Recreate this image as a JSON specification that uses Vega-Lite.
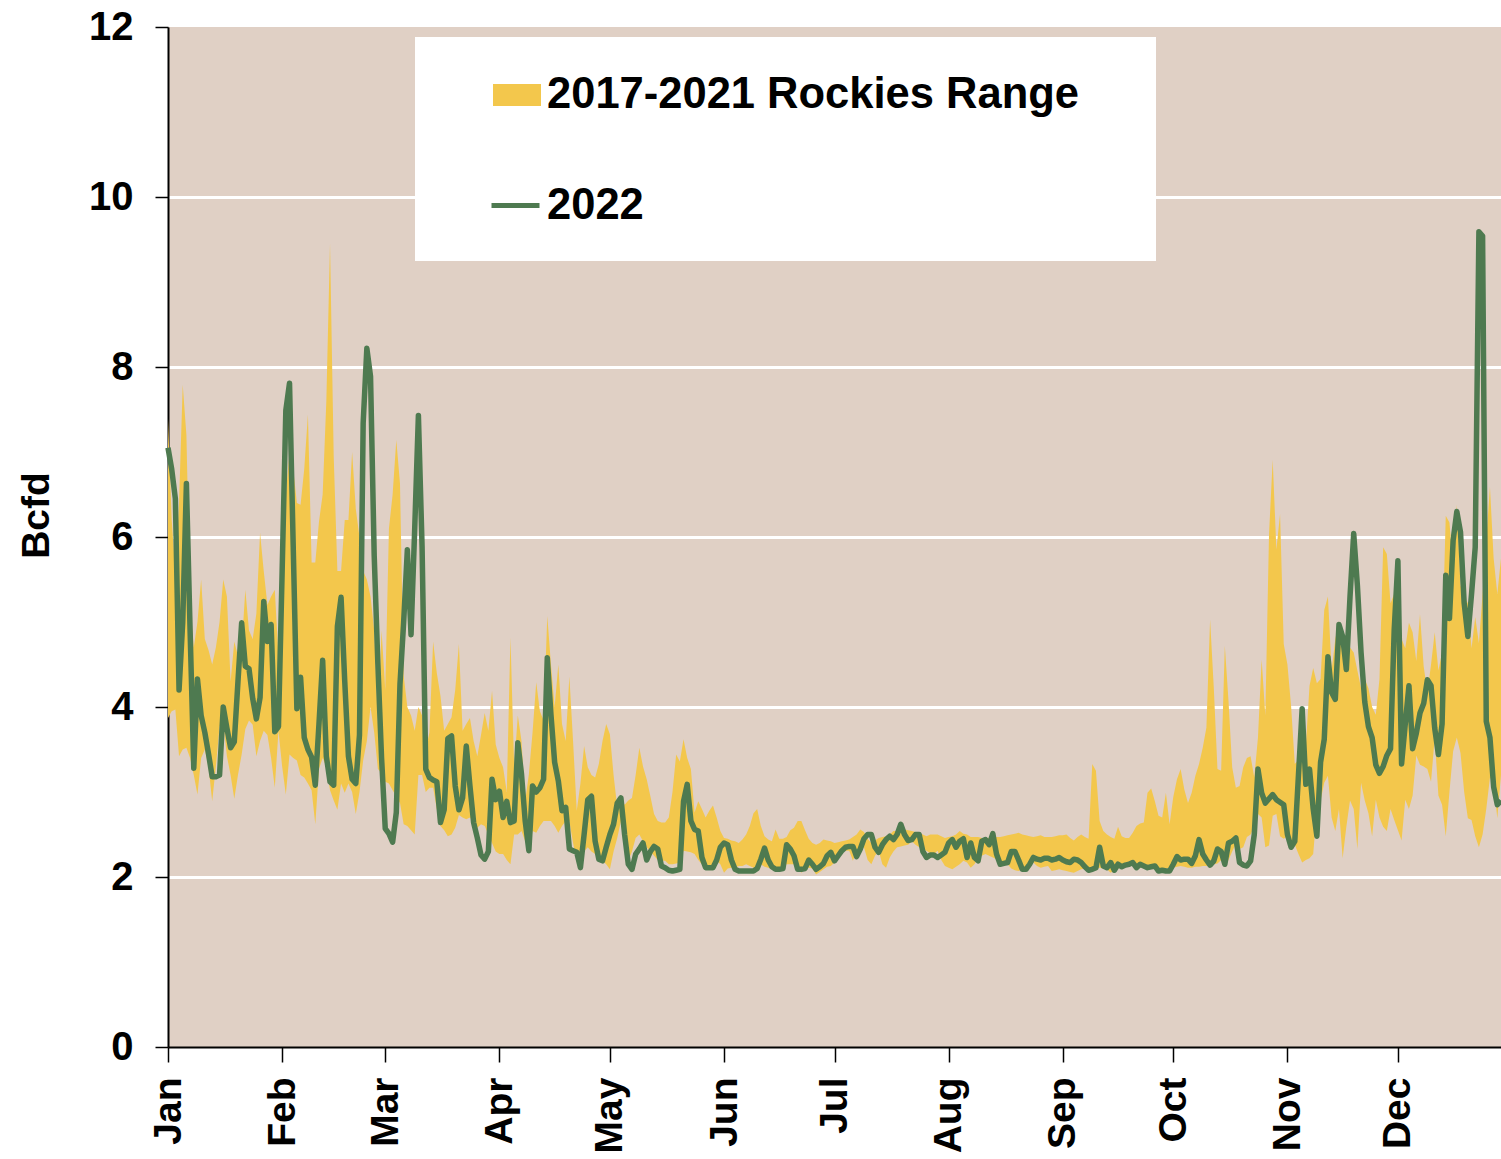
{
"$schema":"https://vega.github.io/schema/vega-lite/v6.json",
"width":1333,"height":1020,
"autosize":{"type":"none"},
"padding":{"left":168,"top":27,"right":0,"bottom":112},
"background":"white",
"config":{"view":{"fill":"#E0D0C5","stroke":null},"font":"Liberation Sans"},
"data":{"values":[
{"d":"2022-01-01","lo":3.87,"hi":7.39,"v":7.05},{"d":"2022-01-02","lo":3.95,"hi":6.2,"v":6.8},{"d":"2022-01-03","lo":3.97,"hi":5.6,"v":6.45},{"d":"2022-01-04","lo":3.42,"hi":6.4,"v":4.2},{"d":"2022-01-05","lo":3.5,"hi":7.79,"v":5.0},{"d":"2022-01-06","lo":3.52,"hi":7.2,"v":6.63},{"d":"2022-01-07","lo":3.4,"hi":5.2,"v":4.9},{"d":"2022-01-08","lo":3.2,"hi":4.7,"v":3.28},{"d":"2022-01-09","lo":2.97,"hi":5.0,"v":4.33},{"d":"2022-01-10","lo":3.4,"hi":5.5,"v":3.9},{"d":"2022-01-11","lo":3.5,"hi":4.8,"v":3.7},{"d":"2022-01-12","lo":3.3,"hi":4.67,"v":3.45},{"d":"2022-01-13","lo":2.89,"hi":4.5,"v":3.18},{"d":"2022-01-14","lo":3.3,"hi":4.7,"v":3.18},{"d":"2022-01-15","lo":3.77,"hi":5.0,"v":3.2},{"d":"2022-01-16","lo":3.82,"hi":5.5,"v":4.0},{"d":"2022-01-17","lo":3.42,"hi":5.3,"v":3.75},{"d":"2022-01-18","lo":3.2,"hi":4.3,"v":3.52},{"d":"2022-01-19","lo":2.92,"hi":4.77,"v":3.59},{"d":"2022-01-20","lo":3.2,"hi":4.6,"v":4.3},{"d":"2022-01-21","lo":3.44,"hi":4.7,"v":4.99},{"d":"2022-01-22","lo":3.74,"hi":5.38,"v":4.48},{"d":"2022-01-23","lo":3.84,"hi":4.9,"v":4.45},{"d":"2022-01-24","lo":3.79,"hi":4.8,"v":4.1},{"d":"2022-01-25","lo":3.42,"hi":5.1,"v":3.86},{"d":"2022-01-26","lo":3.6,"hi":6.05,"v":4.11},{"d":"2022-01-27","lo":3.72,"hi":5.6,"v":5.24},{"d":"2022-01-28","lo":3.67,"hi":5.2,"v":4.77},{"d":"2022-01-29","lo":3.4,"hi":5.3,"v":4.97},{"d":"2022-01-30","lo":3.05,"hi":5.38,"v":3.71},{"d":"2022-01-31","lo":3.72,"hi":4.6,"v":3.77},
{"d":"2022-02-01","lo":3.3,"hi":5.3,"v":5.6},{"d":"2022-02-02","lo":2.97,"hi":6.5,"v":7.49},{"d":"2022-02-03","lo":3.44,"hi":7.0,"v":7.81},{"d":"2022-02-04","lo":3.4,"hi":6.8,"v":5.9},{"d":"2022-02-05","lo":3.37,"hi":6.4,"v":3.98},{"d":"2022-02-06","lo":3.2,"hi":6.38,"v":4.35},{"d":"2022-02-07","lo":3.17,"hi":6.8,"v":3.64},{"d":"2022-02-08","lo":3.1,"hi":7.44,"v":3.5},{"d":"2022-02-09","lo":3.02,"hi":5.7,"v":3.41},{"d":"2022-02-10","lo":2.62,"hi":5.7,"v":3.08},{"d":"2022-02-11","lo":3.27,"hi":6.18,"v":3.8},{"d":"2022-02-12","lo":3.4,"hi":6.5,"v":4.55},{"d":"2022-02-13","lo":3.3,"hi":7.6,"v":3.42},{"d":"2022-02-14","lo":3.02,"hi":9.45,"v":3.12},{"d":"2022-02-15","lo":2.9,"hi":6.95,"v":3.08},{"d":"2022-02-16","lo":2.79,"hi":5.6,"v":4.95},{"d":"2022-02-17","lo":3.1,"hi":5.6,"v":5.29},{"d":"2022-02-18","lo":2.99,"hi":6.2,"v":4.3},{"d":"2022-02-19","lo":3.1,"hi":6.2,"v":3.42},{"d":"2022-02-20","lo":3.0,"hi":7.0,"v":3.15},{"d":"2022-02-21","lo":2.74,"hi":6.33,"v":3.1},{"d":"2022-02-22","lo":3.0,"hi":6.0,"v":3.67},{"d":"2022-02-23","lo":3.37,"hi":5.6,"v":7.34},{"d":"2022-02-24","lo":3.6,"hi":5.5,"v":8.22},{"d":"2022-02-25","lo":4.0,"hi":5.3,"v":7.89},{"d":"2022-02-26","lo":3.7,"hi":4.9,"v":5.78},{"d":"2022-02-27","lo":3.27,"hi":3.8,"v":4.5},{"d":"2022-02-28","lo":3.22,"hi":4.9,"v":3.4},
{"d":"2022-03-01","lo":3.12,"hi":4.2,"v":2.57},{"d":"2022-03-02","lo":3.1,"hi":6.1,"v":2.51},{"d":"2022-03-03","lo":3.02,"hi":6.5,"v":2.41},{"d":"2022-03-04","lo":2.95,"hi":7.14,"v":2.76},{"d":"2022-03-05","lo":2.87,"hi":6.63,"v":4.27},{"d":"2022-03-06","lo":2.62,"hi":4.37,"v":5.0},{"d":"2022-03-07","lo":2.6,"hi":4.0,"v":5.85},{"d":"2022-03-08","lo":2.55,"hi":3.9,"v":4.85},{"d":"2022-03-09","lo":2.5,"hi":3.72,"v":6.1},{"d":"2022-03-10","lo":3.2,"hi":4.0,"v":7.43},{"d":"2022-03-11","lo":3.2,"hi":3.9,"v":5.88},{"d":"2022-03-12","lo":3.0,"hi":3.5,"v":3.27},{"d":"2022-03-13","lo":3.05,"hi":3.7,"v":3.17},{"d":"2022-03-14","lo":3.05,"hi":4.77,"v":3.14},{"d":"2022-03-15","lo":2.8,"hi":4.4,"v":3.12},{"d":"2022-03-16","lo":2.6,"hi":4.13,"v":2.64},{"d":"2022-03-17","lo":2.55,"hi":3.72,"v":2.79},{"d":"2022-03-18","lo":2.48,"hi":3.8,"v":3.63},{"d":"2022-03-19","lo":2.5,"hi":3.88,"v":3.66},{"d":"2022-03-20","lo":2.58,"hi":4.2,"v":3.07},{"d":"2022-03-21","lo":2.73,"hi":4.74,"v":2.79},{"d":"2022-03-22","lo":2.7,"hi":3.72,"v":2.93},{"d":"2022-03-23","lo":2.68,"hi":3.8,"v":3.54},{"d":"2022-03-24","lo":2.7,"hi":3.87,"v":3.07},{"d":"2022-03-25","lo":2.65,"hi":3.6,"v":2.64},{"d":"2022-03-26","lo":2.58,"hi":3.42,"v":2.46},{"d":"2022-03-27","lo":2.62,"hi":3.67,"v":2.26},{"d":"2022-03-28","lo":2.6,"hi":3.93,"v":2.21},{"d":"2022-03-29","lo":2.5,"hi":3.72,"v":2.3},{"d":"2022-03-30","lo":2.4,"hi":4.19,"v":3.15},{"d":"2022-03-31","lo":2.3,"hi":3.56,"v":2.91},
{"d":"2022-04-01","lo":2.27,"hi":3.4,"v":3.01},{"d":"2022-04-02","lo":2.27,"hi":3.29,"v":2.7},{"d":"2022-04-03","lo":2.2,"hi":3.0,"v":2.89},{"d":"2022-04-04","lo":2.15,"hi":4.82,"v":2.64},{"d":"2022-04-05","lo":2.5,"hi":3.3,"v":2.66},{"d":"2022-04-06","lo":2.5,"hi":3.9,"v":3.58},{"d":"2022-04-07","lo":2.54,"hi":3.6,"v":3.21},{"d":"2022-04-08","lo":2.42,"hi":2.89,"v":2.66},{"d":"2022-04-09","lo":2.35,"hi":3.21,"v":2.31},{"d":"2022-04-10","lo":2.54,"hi":3.7,"v":3.07},{"d":"2022-04-11","lo":2.52,"hi":4.29,"v":3.0},{"d":"2022-04-12","lo":2.6,"hi":3.95,"v":3.05},{"d":"2022-04-13","lo":2.66,"hi":3.84,"v":3.15},{"d":"2022-04-14","lo":2.66,"hi":5.07,"v":4.58},{"d":"2022-04-15","lo":2.66,"hi":4.5,"v":3.91},{"d":"2022-04-16","lo":2.6,"hi":4.0,"v":3.35},{"d":"2022-04-17","lo":2.52,"hi":4.5,"v":3.13},{"d":"2022-04-18","lo":2.6,"hi":3.8,"v":2.78},{"d":"2022-04-19","lo":2.66,"hi":3.6,"v":2.82},{"d":"2022-04-20","lo":2.66,"hi":4.36,"v":2.33},{"d":"2022-04-21","lo":2.4,"hi":3.6,"v":2.31},{"d":"2022-04-22","lo":2.19,"hi":2.78,"v":2.29},{"d":"2022-04-23","lo":2.15,"hi":3.1,"v":2.11},{"d":"2022-04-24","lo":2.3,"hi":3.54,"v":2.5},{"d":"2022-04-25","lo":2.35,"hi":3.29,"v":2.91},{"d":"2022-04-26","lo":2.3,"hi":3.2,"v":2.95},{"d":"2022-04-27","lo":2.27,"hi":3.17,"v":2.42},{"d":"2022-04-28","lo":2.2,"hi":3.33,"v":2.21},{"d":"2022-04-29","lo":2.19,"hi":3.6,"v":2.19},{"d":"2022-04-30","lo":2.15,"hi":3.8,"v":2.35},
{"d":"2022-05-01","lo":2.09,"hi":3.68,"v":2.5},{"d":"2022-05-02","lo":2.3,"hi":3.2,"v":2.62},{"d":"2022-05-03","lo":2.46,"hi":2.82,"v":2.87},{"d":"2022-05-04","lo":2.66,"hi":2.95,"v":2.93},{"d":"2022-05-05","lo":2.4,"hi":2.85,"v":2.5},{"d":"2022-05-06","lo":2.19,"hi":2.9,"v":2.15},{"d":"2022-05-07","lo":2.3,"hi":2.93,"v":2.09},{"d":"2022-05-08","lo":2.46,"hi":3.2,"v":2.27},{"d":"2022-05-09","lo":2.5,"hi":3.52,"v":2.33},{"d":"2022-05-10","lo":2.42,"hi":3.3,"v":2.4},{"d":"2022-05-11","lo":2.35,"hi":3.15,"v":2.2},{"d":"2022-05-12","lo":2.3,"hi":2.95,"v":2.3},{"d":"2022-05-13","lo":2.25,"hi":2.74,"v":2.36},{"d":"2022-05-14","lo":2.2,"hi":2.66,"v":2.33},{"d":"2022-05-15","lo":2.19,"hi":2.64,"v":2.13},{"d":"2022-05-16","lo":2.19,"hi":2.64,"v":2.11},{"d":"2022-05-17","lo":2.15,"hi":2.7,"v":2.08},{"d":"2022-05-18","lo":2.15,"hi":3.0,"v":2.07},{"d":"2022-05-19","lo":2.16,"hi":3.44,"v":2.08},{"d":"2022-05-20","lo":2.17,"hi":3.36,"v":2.09},{"d":"2022-05-21","lo":2.31,"hi":3.62,"v":2.89},{"d":"2022-05-22","lo":2.3,"hi":3.4,"v":3.09},{"d":"2022-05-23","lo":2.29,"hi":3.27,"v":2.66},{"d":"2022-05-24","lo":2.27,"hi":2.76,"v":2.56},{"d":"2022-05-25","lo":2.2,"hi":2.89,"v":2.54},{"d":"2022-05-26","lo":2.15,"hi":2.8,"v":2.23},{"d":"2022-05-27","lo":2.12,"hi":2.7,"v":2.11},{"d":"2022-05-28","lo":2.11,"hi":2.78,"v":2.11},{"d":"2022-05-29","lo":2.15,"hi":2.84,"v":2.11},{"d":"2022-05-30","lo":2.19,"hi":2.7,"v":2.2},{"d":"2022-05-31","lo":2.15,"hi":2.54,"v":2.35},
{"d":"2022-06-01","lo":2.05,"hi":2.46,"v":2.4},{"d":"2022-06-02","lo":2.1,"hi":2.45,"v":2.38},{"d":"2022-06-03","lo":2.11,"hi":2.43,"v":2.2},{"d":"2022-06-04","lo":2.11,"hi":2.42,"v":2.09},{"d":"2022-06-05","lo":2.13,"hi":2.4,"v":2.07},{"d":"2022-06-06","lo":2.13,"hi":2.44,"v":2.07},{"d":"2022-06-07","lo":2.15,"hi":2.5,"v":2.07},{"d":"2022-06-08","lo":2.13,"hi":2.6,"v":2.07},{"d":"2022-06-09","lo":2.11,"hi":2.75,"v":2.07},{"d":"2022-06-10","lo":2.12,"hi":2.8,"v":2.1},{"d":"2022-06-11","lo":2.15,"hi":2.6,"v":2.21},{"d":"2022-06-12","lo":2.12,"hi":2.48,"v":2.34},{"d":"2022-06-13","lo":2.11,"hi":2.44,"v":2.2},{"d":"2022-06-14","lo":2.09,"hi":2.42,"v":2.12},{"d":"2022-06-15","lo":2.1,"hi":2.56,"v":2.09},{"d":"2022-06-16","lo":2.11,"hi":2.45,"v":2.09},{"d":"2022-06-17","lo":2.12,"hi":2.45,"v":2.1},{"d":"2022-06-18","lo":2.15,"hi":2.47,"v":2.38},{"d":"2022-06-19","lo":2.15,"hi":2.55,"v":2.33},{"d":"2022-06-20","lo":2.15,"hi":2.58,"v":2.25},{"d":"2022-06-21","lo":2.12,"hi":2.66,"v":2.09},{"d":"2022-06-22","lo":2.05,"hi":2.66,"v":2.09},{"d":"2022-06-23","lo":2.1,"hi":2.55,"v":2.1},{"d":"2022-06-24","lo":2.11,"hi":2.45,"v":2.2},{"d":"2022-06-25","lo":2.1,"hi":2.4,"v":2.15},{"d":"2022-06-26","lo":2.03,"hi":2.38,"v":2.09},{"d":"2022-06-27","lo":2.06,"hi":2.4,"v":2.12},{"d":"2022-06-28","lo":2.09,"hi":2.44,"v":2.16},{"d":"2022-06-29","lo":2.12,"hi":2.43,"v":2.25},{"d":"2022-06-30","lo":2.13,"hi":2.42,"v":2.29},
{"d":"2022-07-01","lo":2.17,"hi":2.4,"v":2.19},{"d":"2022-07-02","lo":2.21,"hi":2.41,"v":2.25},{"d":"2022-07-03","lo":2.31,"hi":2.42,"v":2.31},{"d":"2022-07-04","lo":2.31,"hi":2.43,"v":2.35},{"d":"2022-07-05","lo":2.31,"hi":2.44,"v":2.36},{"d":"2022-07-06","lo":2.19,"hi":2.47,"v":2.36},{"d":"2022-07-07","lo":2.31,"hi":2.5,"v":2.24},{"d":"2022-07-08","lo":2.33,"hi":2.56,"v":2.33},{"d":"2022-07-09","lo":2.35,"hi":2.53,"v":2.45},{"d":"2022-07-10","lo":2.2,"hi":2.45,"v":2.5},{"d":"2022-07-11","lo":2.15,"hi":2.4,"v":2.5},{"d":"2022-07-12","lo":2.25,"hi":2.43,"v":2.35},{"d":"2022-07-13","lo":2.31,"hi":2.46,"v":2.29},{"d":"2022-07-14","lo":2.15,"hi":2.47,"v":2.38},{"d":"2022-07-15","lo":2.11,"hi":2.48,"v":2.44},{"d":"2022-07-16","lo":2.23,"hi":2.5,"v":2.48},{"d":"2022-07-17","lo":2.3,"hi":2.54,"v":2.44},{"d":"2022-07-18","lo":2.35,"hi":2.54,"v":2.5},{"d":"2022-07-19","lo":2.36,"hi":2.55,"v":2.62},{"d":"2022-07-20","lo":2.37,"hi":2.56,"v":2.5},{"d":"2022-07-21","lo":2.38,"hi":2.55,"v":2.43},{"d":"2022-07-22","lo":2.42,"hi":2.54,"v":2.44},{"d":"2022-07-23","lo":2.38,"hi":2.53,"v":2.5},{"d":"2022-07-24","lo":2.35,"hi":2.52,"v":2.5},{"d":"2022-07-25","lo":2.32,"hi":2.5,"v":2.3},{"d":"2022-07-26","lo":2.31,"hi":2.48,"v":2.23},{"d":"2022-07-27","lo":2.28,"hi":2.5,"v":2.26},{"d":"2022-07-28","lo":2.27,"hi":2.5,"v":2.26},{"d":"2022-07-29","lo":2.31,"hi":2.5,"v":2.23},{"d":"2022-07-30","lo":2.2,"hi":2.48,"v":2.26},{"d":"2022-07-31","lo":2.13,"hi":2.46,"v":2.29},
{"d":"2022-08-01","lo":2.11,"hi":2.47,"v":2.4},{"d":"2022-08-02","lo":2.09,"hi":2.48,"v":2.44},{"d":"2022-08-03","lo":2.12,"hi":2.5,"v":2.35},{"d":"2022-08-04","lo":2.15,"hi":2.54,"v":2.42},{"d":"2022-08-05","lo":2.19,"hi":2.51,"v":2.45},{"d":"2022-08-06","lo":2.17,"hi":2.5,"v":2.23},{"d":"2022-08-07","lo":2.11,"hi":2.47,"v":2.4},{"d":"2022-08-08","lo":2.15,"hi":2.47,"v":2.23},{"d":"2022-08-09","lo":2.22,"hi":2.47,"v":2.19},{"d":"2022-08-10","lo":2.25,"hi":2.46,"v":2.42},{"d":"2022-08-11","lo":2.27,"hi":2.45,"v":2.44},{"d":"2022-08-12","lo":2.25,"hi":2.46,"v":2.38},{"d":"2022-08-13","lo":2.23,"hi":2.47,"v":2.51},{"d":"2022-08-14","lo":2.21,"hi":2.47,"v":2.27},{"d":"2022-08-15","lo":2.19,"hi":2.47,"v":2.15},{"d":"2022-08-16","lo":2.16,"hi":2.48,"v":2.16},{"d":"2022-08-17","lo":2.15,"hi":2.49,"v":2.17},{"d":"2022-08-18","lo":2.1,"hi":2.5,"v":2.3},{"d":"2022-08-19","lo":2.08,"hi":2.51,"v":2.3},{"d":"2022-08-20","lo":2.07,"hi":2.52,"v":2.2},{"d":"2022-08-21","lo":2.09,"hi":2.5,"v":2.09},{"d":"2022-08-22","lo":2.11,"hi":2.49,"v":2.09},{"d":"2022-08-23","lo":2.14,"hi":2.48,"v":2.15},{"d":"2022-08-24","lo":2.17,"hi":2.47,"v":2.23},{"d":"2022-08-25","lo":2.13,"hi":2.48,"v":2.21},{"d":"2022-08-26","lo":2.11,"hi":2.49,"v":2.2},{"d":"2022-08-27","lo":2.12,"hi":2.47,"v":2.22},{"d":"2022-08-28","lo":2.13,"hi":2.47,"v":2.22},{"d":"2022-08-29","lo":2.07,"hi":2.47,"v":2.2},{"d":"2022-08-30","lo":2.08,"hi":2.48,"v":2.21},{"d":"2022-08-31","lo":2.09,"hi":2.49,"v":2.23},
{"d":"2022-09-01","lo":2.08,"hi":2.49,"v":2.2},{"d":"2022-09-02","lo":2.07,"hi":2.5,"v":2.18},{"d":"2022-09-03","lo":2.06,"hi":2.46,"v":2.17},{"d":"2022-09-04","lo":2.05,"hi":2.43,"v":2.21},{"d":"2022-09-05","lo":2.07,"hi":2.47,"v":2.2},{"d":"2022-09-06","lo":2.09,"hi":2.5,"v":2.17},{"d":"2022-09-07","lo":2.1,"hi":2.47,"v":2.12},{"d":"2022-09-08","lo":2.11,"hi":2.45,"v":2.08},{"d":"2022-09-09","lo":2.09,"hi":3.33,"v":2.09},{"d":"2022-09-10","lo":2.1,"hi":3.25,"v":2.11},{"d":"2022-09-11","lo":2.11,"hi":2.66,"v":2.35},{"d":"2022-09-12","lo":2.1,"hi":2.54,"v":2.13},{"d":"2022-09-13","lo":2.09,"hi":2.5,"v":2.11},{"d":"2022-09-14","lo":2.05,"hi":2.47,"v":2.17},{"d":"2022-09-15","lo":2.08,"hi":2.45,"v":2.08},{"d":"2022-09-16","lo":2.1,"hi":2.59,"v":2.15},{"d":"2022-09-17","lo":2.11,"hi":2.48,"v":2.12},{"d":"2022-09-18","lo":2.12,"hi":2.46,"v":2.14},{"d":"2022-09-19","lo":2.12,"hi":2.46,"v":2.15},{"d":"2022-09-20","lo":2.14,"hi":2.52,"v":2.17},{"d":"2022-09-21","lo":2.13,"hi":2.6,"v":2.11},{"d":"2022-09-22","lo":2.12,"hi":2.63,"v":2.15},{"d":"2022-09-23","lo":2.12,"hi":2.64,"v":2.13},{"d":"2022-09-24","lo":2.11,"hi":2.99,"v":2.11},{"d":"2022-09-25","lo":2.1,"hi":3.04,"v":2.12},{"d":"2022-09-26","lo":2.1,"hi":2.89,"v":2.13},{"d":"2022-09-27","lo":2.09,"hi":2.72,"v":2.07},{"d":"2022-09-28","lo":2.1,"hi":2.7,"v":2.08},{"d":"2022-09-29","lo":2.1,"hi":2.99,"v":2.07},{"d":"2022-09-30","lo":2.11,"hi":2.62,"v":2.07},
{"d":"2022-10-01","lo":2.11,"hi":2.94,"v":2.15},{"d":"2022-10-02","lo":2.12,"hi":3.15,"v":2.24},{"d":"2022-10-03","lo":2.13,"hi":3.27,"v":2.2},{"d":"2022-10-04","lo":2.12,"hi":3.03,"v":2.21},{"d":"2022-10-05","lo":2.11,"hi":2.87,"v":2.21},{"d":"2022-10-06","lo":2.11,"hi":2.99,"v":2.16},{"d":"2022-10-07","lo":2.12,"hi":3.19,"v":2.25},{"d":"2022-10-08","lo":2.12,"hi":3.33,"v":2.44},{"d":"2022-10-09","lo":2.13,"hi":3.52,"v":2.27},{"d":"2022-10-10","lo":2.13,"hi":3.76,"v":2.2},{"d":"2022-10-11","lo":2.14,"hi":5.03,"v":2.14},{"d":"2022-10-12","lo":2.15,"hi":4.23,"v":2.19},{"d":"2022-10-13","lo":2.16,"hi":3.27,"v":2.33},{"d":"2022-10-14","lo":2.2,"hi":3.25,"v":2.3},{"d":"2022-10-15","lo":2.15,"hi":4.72,"v":2.15},{"d":"2022-10-16","lo":2.2,"hi":4.07,"v":2.4},{"d":"2022-10-17","lo":2.3,"hi":3.29,"v":2.42},{"d":"2022-10-18","lo":2.39,"hi":3.05,"v":2.46},{"d":"2022-10-19","lo":2.33,"hi":3.07,"v":2.17},{"d":"2022-10-20","lo":2.35,"hi":3.29,"v":2.14},{"d":"2022-10-21","lo":2.47,"hi":3.4,"v":2.13},{"d":"2022-10-22","lo":2.5,"hi":3.42,"v":2.19},{"d":"2022-10-23","lo":2.6,"hi":3.17,"v":2.5},{"d":"2022-10-24","lo":2.74,"hi":3.64,"v":3.27},{"d":"2022-10-25","lo":2.7,"hi":4.56,"v":2.99},{"d":"2022-10-26","lo":2.35,"hi":3.9,"v":2.87},{"d":"2022-10-27","lo":2.37,"hi":6.03,"v":2.92},{"d":"2022-10-28","lo":2.72,"hi":6.91,"v":2.97},{"d":"2022-10-29","lo":2.74,"hi":5.85,"v":2.91},{"d":"2022-10-30","lo":2.48,"hi":6.27,"v":2.88},{"d":"2022-10-31","lo":2.45,"hi":4.74,"v":2.85},
{"d":"2022-11-01","lo":2.48,"hi":4.5,"v":2.5},{"d":"2022-11-02","lo":2.42,"hi":4.01,"v":2.35},{"d":"2022-11-03","lo":2.38,"hi":3.33,"v":2.42},{"d":"2022-11-04","lo":2.27,"hi":3.38,"v":3.2},{"d":"2022-11-05","lo":2.17,"hi":3.5,"v":3.98},{"d":"2022-11-06","lo":2.2,"hi":3.54,"v":3.09},{"d":"2022-11-07","lo":2.22,"hi":4.25,"v":3.27},{"d":"2022-11-08","lo":2.27,"hi":4.46,"v":2.8},{"d":"2022-11-09","lo":2.8,"hi":4.28,"v":2.48},{"d":"2022-11-10","lo":2.9,"hi":4.33,"v":3.35},{"d":"2022-11-11","lo":3.11,"hi":5.14,"v":3.62},{"d":"2022-11-12","lo":3.19,"hi":5.3,"v":4.59},{"d":"2022-11-13","lo":2.7,"hi":4.43,"v":4.17},{"d":"2022-11-14","lo":2.54,"hi":4.8,"v":4.09},{"d":"2022-11-15","lo":2.8,"hi":5.01,"v":4.97},{"d":"2022-11-16","lo":2.22,"hi":4.69,"v":4.83},{"d":"2022-11-17","lo":2.59,"hi":4.85,"v":4.44},{"d":"2022-11-18","lo":2.9,"hi":4.7,"v":5.3},{"d":"2022-11-19","lo":2.8,"hi":4.64,"v":6.04},{"d":"2022-11-20","lo":2.33,"hi":4.43,"v":5.43},{"d":"2022-11-21","lo":3.11,"hi":4.22,"v":4.64},{"d":"2022-11-22","lo":2.9,"hi":4.33,"v":4.06},{"d":"2022-11-23","lo":2.75,"hi":4.22,"v":3.77},{"d":"2022-11-24","lo":2.48,"hi":4.0,"v":3.64},{"d":"2022-11-25","lo":2.91,"hi":3.91,"v":3.32},{"d":"2022-11-26","lo":2.7,"hi":4.33,"v":3.22},{"d":"2022-11-27","lo":2.59,"hi":5.88,"v":3.3},{"d":"2022-11-28","lo":2.54,"hi":5.8,"v":3.43},{"d":"2022-11-29","lo":2.8,"hi":5.22,"v":3.51},{"d":"2022-11-30","lo":2.67,"hi":5.33,"v":4.91},
{"d":"2022-12-01","lo":2.55,"hi":5.12,"v":5.72},{"d":"2022-12-02","lo":2.43,"hi":4.8,"v":3.33},{"d":"2022-12-03","lo":2.91,"hi":4.69,"v":3.8},{"d":"2022-12-04","lo":2.8,"hi":4.99,"v":4.25},{"d":"2022-12-05","lo":2.96,"hi":4.88,"v":3.51},{"d":"2022-12-06","lo":3.43,"hi":4.54,"v":3.69},{"d":"2022-12-07","lo":3.32,"hi":5.09,"v":3.93},{"d":"2022-12-08","lo":3.3,"hi":4.48,"v":4.04},{"d":"2022-12-09","lo":3.27,"hi":4.17,"v":4.32},{"d":"2022-12-10","lo":3.12,"hi":4.5,"v":4.25},{"d":"2022-12-11","lo":3.64,"hi":4.88,"v":3.75},{"d":"2022-12-12","lo":2.96,"hi":4.43,"v":3.44},{"d":"2022-12-13","lo":2.85,"hi":4.64,"v":3.8},{"d":"2022-12-14","lo":2.48,"hi":6.25,"v":5.55},{"d":"2022-12-15","lo":3.0,"hi":6.17,"v":5.04},{"d":"2022-12-16","lo":3.48,"hi":5.64,"v":5.96},{"d":"2022-12-17","lo":3.64,"hi":6.38,"v":6.3},{"d":"2022-12-18","lo":3.46,"hi":5.43,"v":6.06},{"d":"2022-12-19","lo":3.0,"hi":5.3,"v":5.22},{"d":"2022-12-20","lo":2.69,"hi":5.22,"v":4.83},{"d":"2022-12-21","lo":2.67,"hi":4.69,"v":5.33},{"d":"2022-12-22","lo":2.48,"hi":5.06,"v":5.88},{"d":"2022-12-23","lo":2.35,"hi":4.75,"v":9.59},{"d":"2022-12-24","lo":2.5,"hi":5.33,"v":9.54},{"d":"2022-12-25","lo":2.8,"hi":5.96,"v":3.83},{"d":"2022-12-26","lo":3.17,"hi":6.59,"v":3.64},{"d":"2022-12-27","lo":3.11,"hi":5.75,"v":3.06},{"d":"2022-12-28","lo":2.69,"hi":5.33,"v":2.85},{"d":"2022-12-29","lo":3.2,"hi":5.75,"v":2.9}
]},
"layer":[
{"mark":{"type":"area","interpolate":"linear"},
 "encoding":{
  "x":{"field":"d","type":"temporal","title":null,
   "scale":{"type":"utc","domain":[{"year":2022,"month":1,"date":1,"utc":true},{"year":2022,"month":12,"date":29,"utc":true}]},
   "axis":{"values":[{"year":2022,"month":1,"date":1,"utc":true},{"year":2022,"month":2,"date":1,"utc":true},{"year":2022,"month":3,"date":1,"utc":true},{"year":2022,"month":4,"date":1,"utc":true},{"year":2022,"month":5,"date":1,"utc":true},{"year":2022,"month":6,"date":1,"utc":true},{"year":2022,"month":7,"date":1,"utc":true},{"year":2022,"month":8,"date":1,"utc":true},{"year":2022,"month":9,"date":1,"utc":true},{"year":2022,"month":10,"date":1,"utc":true},{"year":2022,"month":11,"date":1,"utc":true},{"year":2022,"month":12,"date":1,"utc":true}],
    "format":"%b","labelAngle":270,"labelFont":"Liberation Sans","labelFontWeight":"bold","labelFontSize":39,"labelColor":"black","labelPadding":15,"labelFlush":false,"labelOverlap":false,"labelBound":false,
    "tickSize":15,"tickColor":"black","tickWidth":1.5,"domainColor":"black","domainWidth":2,"grid":false}},
  "y":{"field":"lo","type":"quantitative","title":"Bcfd","scale":{"domain":[0,12]},
   "axis":{"values":[0,2,4,6,8,10,12],"format":"d","labelFont":"Liberation Sans","labelFontWeight":"bold","labelFontSize":40,"labelColor":"black","labelPadding":22,"labelFlush":false,
    "tickSize":13,"tickColor":"black","tickWidth":1.5,"domainColor":"black","domainWidth":2,
    "grid":true,"gridColor":{"condition":{"test":"datum.value === 0 || datum.value === 12","value":"transparent"},"value":"white"},"gridWidth":3,
    "titleFont":"Liberation Sans","titleFontWeight":"bold","titleFontSize":39,"titleColor":"black","titlePadding":32,"titleY":488}},
  "y2":{"field":"hi"},
  "fill":{"datum":"2017-2021 Rockies Range","type":"nominal",
   "scale":{"domain":["2017-2021 Rockies Range"],"range":["#F3C74C"]},
   "legend":{"orient":"none","legendX":247,"legendY":10,"title":null,"fillColor":"white","padding":34,
    "symbolSize":2304,"symbolOffset":44,"labelOffset":6,"symbolType":"M-1,-0.46H1V0.46H-1ZM25.17,0","symbolStrokeWidth":0,
    "labelFont":"Liberation Sans","labelFontSize":43.5,"labelFontWeight":"bold","labelColor":"black","labelLimit":2000}}
 }},
{"mark":{"type":"line","strokeWidth":5.5,"strokeJoin":"round","interpolate":"linear"},
 "encoding":{
  "x":{"field":"d","type":"temporal","title":null},
  "y":{"field":"v","type":"quantitative","title":"Bcfd"},
  "stroke":{"datum":"2022","type":"nominal",
   "scale":{"domain":["2022"],"range":["#4E7A50"]},
   "legend":{"orient":"none","legendX":247,"legendY":118,"title":null,"fillColor":"white","padding":34,
    "symbolSize":2304,"symbolOffset":40,"labelOffset":5,"symbolType":"M-1,0H1M24.84,0","symbolStrokeWidth":5,
    "labelFont":"Liberation Sans","labelFontSize":43.5,"labelFontWeight":"bold","labelColor":"black","labelLimit":2000}}
 }}
]
}
